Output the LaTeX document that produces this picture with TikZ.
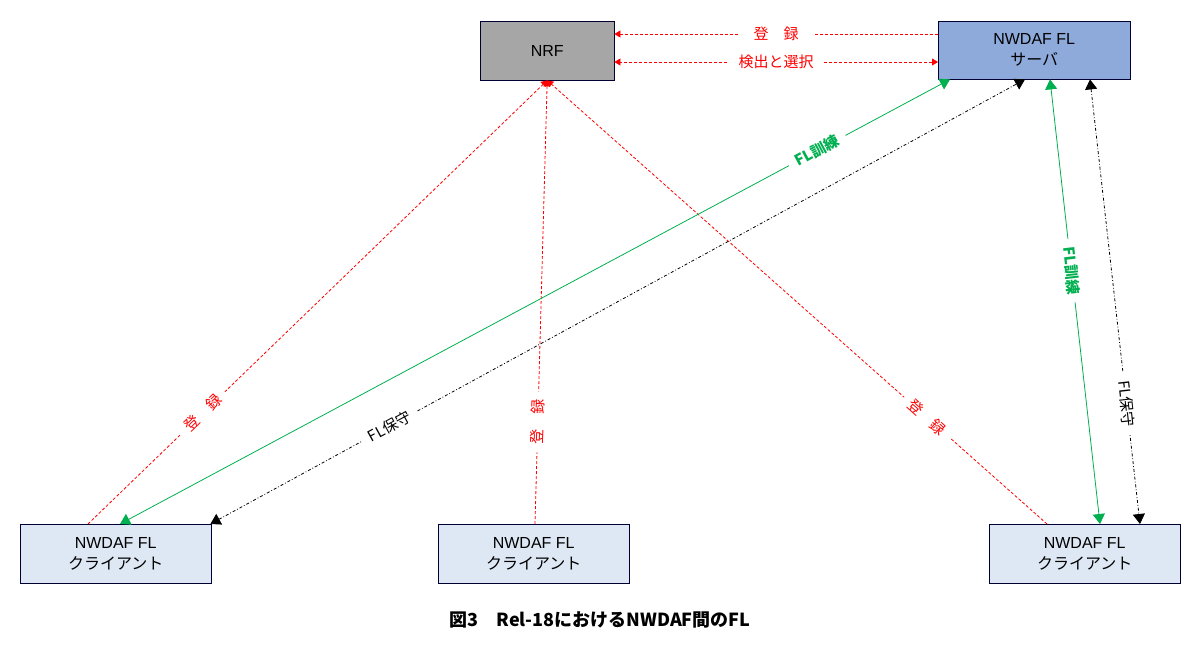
\documentclass[tikz,border=0pt]{standalone}
\usepackage{fontspec}
\setmainfont{Liberation Sans}
\newfontfamily\jp{Noto Sans CJK JP}
\usetikzlibrary{arrows.meta,calc}
\definecolor{nrfgray}{HTML}{A6A6A6}
\definecolor{srvblue}{HTML}{8EAADB}
\definecolor{clblue}{HTML}{DEE8F4}
\definecolor{flgreen}{HTML}{00B050}

\begin{document}
\begin{tikzpicture}[
        x=1pt, y=-1pt,
        font=\fontsize{16}{19}\selectfont,
        box/.style={draw=black!80!blue, thin, minimum width=191pt, minimum height=59pt,
                    align=center, inner sep=0pt, anchor=north west},
        reg/.style={red, line width=0.8pt, densely dashed, -{Triangle[length=6pt,width=7pt]}},
        both/.style={red, line width=0.8pt, densely dashed, {Triangle[length=6pt,width=7pt]}-{Triangle[length=6pt,width=7pt]}},
        train/.style={flgreen, line width=0.8pt, {Triangle[length=10pt,width=12pt]}-{Triangle[length=10pt,width=12pt]}},
        maint/.style={black, line width=0.8pt, dash dot, {Triangle[length=10pt,width=12pt]}-{Triangle[length=10pt,width=12pt]}},
        lbl/.style={fill=white, inner sep=8pt, text=red, font=\jp\fontsize{15}{18}\selectfont}]

    \useasboundingbox (0,0) rectangle (1200,659);

    % boxes
    \node [box, fill=nrfgray, minimum width=134pt] (nrf) at (480,21) {NRF};
    \node [box, fill=srvblue, minimum width=192pt, minimum height=58pt] (srv) at (938,21)
        {NWDAF FL\\[2pt]{\jp サーバ}};
    \node [box, fill=clblue] (cl) at (20,524) {NWDAF FL\\[2pt]{\jp クライアント}};
    \node [box, fill=clblue] (cm) at (438,524) {NWDAF FL\\[2pt]{\jp クライアント}};
    \node [box, fill=clblue] (cr) at (989,524) {NWDAF FL\\[2pt]{\jp クライアント}};

    % NRF
    \draw [reg] ([yshift=-13pt]srv.north west) -- node [lbl, inner xsep=14pt] {登\quad 録}
        ([yshift=-13pt]nrf.north east);
    \draw [both] ([yshift=-41pt]srv.north west) -- node [lbl, inner xsep=10pt] {検出と選択}
        ([yshift=-41pt]nrf.north east);
    \draw [reg] ([xshift=68pt]cl.north west) -- node [lbl, pos=0.25, sloped] {登\quad 録} (nrf.south);
    \draw [reg] ([xshift=97pt]cm.north west) -- node [lbl, pos=0.23, rotate=88] {登\quad 録} (nrf.south);
    \draw [reg] ([xshift=58pt]cr.north west) -- node [lbl, pos=0.24, sloped] {登\quad 録} (nrf.south);

    % FL
    \draw [train] ([xshift=100pt]cl.north west) -- node [lbl, pos=0.84, sloped, text=flgreen,
        font=\jp\bfseries\fontsize{15}{18}\selectfont] {FL訓練} ([xshift=12pt]srv.south west);
    \draw [maint] ([xshift=-1pt]cl.north east) -- node [lbl, pos=0.22, sloped, text=black]
        {FL保守} ([xshift=87pt]srv.south west);
    \draw [train] ([xshift=112pt]srv.south west) -- node [lbl, pos=0.43, sloped, text=flgreen,
        font=\jp\bfseries\fontsize{15}{18}\selectfont] {FL訓練} ([xshift=111pt]cr.north west);
    \draw [maint] ([xshift=152pt]srv.south west) -- node [lbl, pos=0.73, sloped, text=black]
        {FL保守} ([xshift=151pt]cr.north west);

    % caption
    \node [font=\jp\bfseries\fontsize{18}{21}\selectfont] (cap) at (600,620) {図3\quad Rel-18におけるNWDAF間のFL};
\end{tikzpicture}
\end{document}
